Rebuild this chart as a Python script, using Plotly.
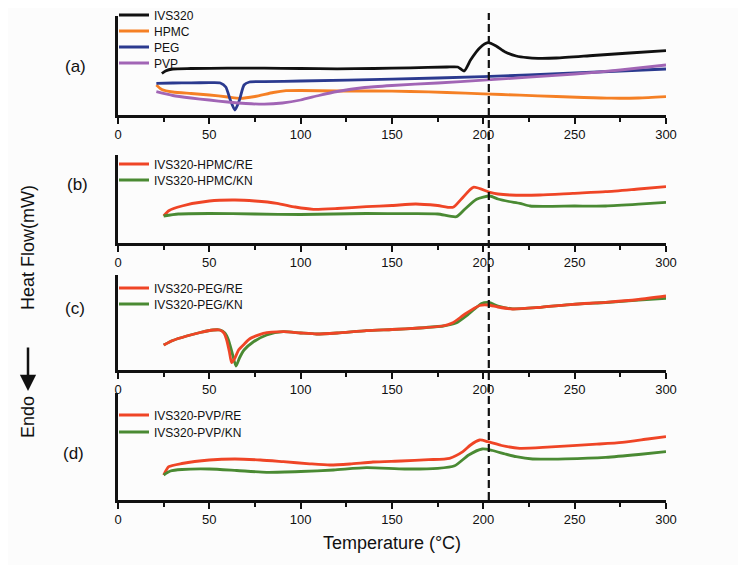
import plotly.graph_objects as go

# ---------------- data (heat flow in arbitrary units vs temperature °C) ----------------
# Panel (a)
T_ivs = [24, 26, 30, 40, 60, 80, 100, 120, 140, 160, 180, 186, 189.5, 193, 198, 202.5, 207, 212, 218, 224, 230, 240, 260, 280, 300]
h_ivs = [41.5, 44, 46, 46.5, 46.8, 46.8, 46.5, 46.2, 46.5, 47.2, 48, 48, 44, 55, 67, 72.3, 69, 63, 59, 57.3, 56.7, 57, 59.5, 62, 64.3]
T_hpmc = [21, 24, 30, 40, 50, 60, 67, 75, 85, 92, 100, 120, 140, 160, 180, 200, 220, 240, 255, 270, 285, 300]
h_hpmc = [30, 25.5, 23, 21.5, 20, 18, 16.7, 18.5, 22.5, 24.3, 24.5, 24, 24, 23.5, 22.5, 21.2, 19.8, 18.5, 17.5, 16.8, 17, 18.3]
T_peg = [21, 30, 40, 50, 56, 59, 61.5, 64, 66.5, 69, 72, 80, 100, 150, 200, 250, 300]
h_peg = [31.7, 32, 32.2, 32.3, 32, 28, 15, 5, 15, 30, 33, 33.3, 34, 35.8, 38.3, 42, 46]
T_pvp = [21, 30, 40, 50, 60, 70, 80, 90, 100, 110, 120, 135, 150, 175, 200, 225, 250, 275, 300]
h_pvp = [23.3, 19.5, 17, 15, 13, 11.5, 10.8, 12, 15, 19.5, 23.5, 27.5, 29.5, 32, 34.8, 37.8, 41, 45, 50]

# Panel (b)
T_hre = [25, 27.8, 35, 50, 64, 75, 87, 97, 107, 120, 136, 150, 163, 175, 183.4, 188, 194.5, 203.6, 208, 214.6, 231, 249, 267, 285, 300]
h_hre = [27, 32.3, 37, 42, 43, 42, 39.7, 36, 33.7, 34.5, 36.3, 37.5, 39, 37.5, 35.7, 44, 55.7, 50.7, 49, 48, 48, 49.7, 51.3, 54, 56.3]
T_hkn = [25, 33, 50, 75, 100, 136, 160, 175, 185.3, 190, 196.3, 203.6, 208, 214, 220, 225.6, 250, 267, 285, 300]
h_hkn = [27, 29, 29.5, 29, 28.5, 29.5, 29.3, 29, 26.3, 34, 43.7, 47, 44, 41.5, 39.7, 37, 37, 37, 38.8, 40.7]

# Panel (c)
T_pre = [25, 30, 37.6, 45, 52, 55.6, 58, 59.5, 61, 62.2, 64, 66, 68.6, 72, 79.5, 90.5, 100, 108.7, 120, 136, 150, 165, 177.8, 183.3, 190, 198, 202.5, 208, 216, 230, 249, 267, 285, 300]
h_pre = [25, 29.5, 34, 37.5, 40, 40, 37, 30, 18, 7.3, 12, 20, 25, 31, 36.7, 38.3, 37, 36, 37, 39.3, 40.5, 42, 44, 47.3, 56, 64.5, 65, 63, 61, 62.5, 65.7, 67.7, 70.5, 74]
T_pkn = [25, 30, 37.6, 45, 52, 56, 58.5, 60.5, 62.5, 64.6, 66.5, 69, 74, 81.4, 90.5, 100, 108.7, 120, 136, 150, 165, 178, 185, 192, 199, 203, 208, 216, 230, 249, 267, 285, 300]
h_pkn = [25, 29.5, 34, 37.5, 40, 40, 37, 30, 17, 4, 12, 20, 28, 35, 38.3, 37, 36, 37, 39.3, 40.5, 42, 44, 47, 56, 66.5, 67.5, 64, 61.2, 62.5, 65.7, 67.5, 69.8, 71.7]

# Panel (d)
T_vre = [25, 27.8, 35, 50, 64, 78, 90.5, 105, 116, 127, 139.6, 155, 170, 181.5, 188.8, 193, 198, 202.5, 210, 219.9, 235, 249, 262, 276, 290, 300]
h_vre = [25, 33.3, 36.5, 40, 41, 40, 38.3, 36.2, 35, 36, 38, 39, 40.3, 41.7, 48.3, 55, 60, 58.3, 54.5, 51.7, 52.8, 54.3, 55.8, 57.7, 61, 63.3]
T_vkn = [25, 28.7, 35, 50, 65, 81.4, 100, 118, 136, 157, 175, 184.3, 192, 199.4, 205, 212, 218, 227, 245, 267, 285, 300]
h_vkn = [25, 29, 30.5, 31, 29.5, 27.7, 28.5, 30, 32.3, 31, 31.7, 34.3, 45, 51, 49.5, 46, 43.3, 41, 41.2, 42.7, 45.5, 48.3]

x_ticks = [0, 50, 100, 150, 200, 250, 300]
marker_T = 203  # dashed reference line
panel_labels = ["(a)", "(b)", "(c)", "(d)"]

# ---------------- styling ----------------
FONT = "Liberation Sans, Arial, sans-serif"
INK = "#111111"
C_BLACK = "#111111"
C_ORANGE = "#f58025"
C_BLUE = "#2b3a8f"
C_PURPLE = "#a165b5"
C_RED = "#ef4526"
C_GREEN = "#4a8a33"
LW = 2.8

# page body has an 8px margin; figure is sized/offset so the window matches the reference
OFF = 8
FIG_W, FIG_H = 746 - OFF, 565 - OFF
# plot area in window pixels
TOP, BOT, LEFT, RIGHT = 10, 500, 118, 666
H = BOT - TOP
W = RIGHT - LEFT

def py(p):
    return (BOT - p) / H

def px(p):
    return (p - LEFT) / W

def cx(p):
    return (p - OFF) / FIG_W

def cy(p):
    return 1 - (p - OFF) / FIG_H

fig = go.Figure()

# (T, h, name, color, panel row, legend item center y in window px)
series = [
    (T_ivs, h_ivs, "IVS320", C_BLACK, 1, 15),
    (T_hpmc, h_hpmc, "HPMC", C_ORANGE, 1, 31),
    (T_peg, h_peg, "PEG", C_BLUE, 1, 47),
    (T_pvp, h_pvp, "PVP", C_PURPLE, 1, 63),
    (T_hre, h_hre, "IVS320-HPMC/RE", C_RED, 2, 164),
    (T_hkn, h_hkn, "IVS320-HPMC/KN", C_GREEN, 2, 180),
    (T_pkn, h_pkn, "IVS320-PEG/KN", C_GREEN, 3, 304),
    (T_pre, h_pre, "IVS320-PEG/RE", C_RED, 3, 288),
    (T_vre, h_vre, "IVS320-PVP/RE", C_RED, 4, 415),
    (T_vkn, h_vkn, "IVS320-PVP/KN", C_GREEN, 4, 432),
]

layout = dict(
    width=FIG_W, height=FIG_H,
    margin=dict(l=LEFT - OFF, r=FIG_W - (RIGHT - OFF), t=TOP - OFF, b=FIG_H - (BOT - OFF), autoexpand=False),
    paper_bgcolor="#fcfcfc", plot_bgcolor="#fcfcfc",
    font=dict(family=FONT, color=INK),
    showlegend=True,
)

for k, (T, h, name, color, row, lc) in enumerate(series):
    lkey = "legend" if k == 0 else f"legend{k + 1}"
    fig.add_trace(go.Scatter(
        x=T, y=h, name=name, mode="lines",
        line=dict(color=color, width=LW, shape="spline", smoothing=0.6),
        xaxis="x" if row == 1 else f"x{row}",
        yaxis="y" if row == 1 else f"y{row}",
        legend=lkey,
    ))
    layout[lkey] = dict(
        xref="container", yref="container",
        x=cx(114), xanchor="left", y=cy(lc), yanchor="middle",
        bgcolor="rgba(0,0,0,0)", borderwidth=0,
        font=dict(size=12, family=FONT, color=INK),
        itemwidth=30,
    )

panels = [(16, 115, 99), (155, 243, 88), (275, 370, 95), (393, 500, 107)]

for i, (ptop, pbot, yr) in enumerate(panels, start=1):
    xa = "xaxis" if i == 1 else f"xaxis{i}"
    ya = "yaxis" if i == 1 else f"yaxis{i}"
    layout[xa] = dict(
        domain=[0, 1], range=[0, 300], anchor="y" if i == 1 else f"y{i}",
        showline=True, linecolor=INK, linewidth=2.5, mirror=False,
        ticks="outside", ticklen=6, tickwidth=2.2, tickcolor=INK,
        tickvals=x_ticks, ticktext=[str(v) for v in x_ticks],
        minor=dict(ticks="outside", ticklen=4, tickwidth=2, tickcolor=INK, dtick=25, tick0=0),
        showgrid=False, zeroline=False, automargin=False,
        tickfont=dict(size=13, family=FONT, color=INK),
    )
    layout[ya] = dict(
        domain=[py(pbot), py(ptop)], range=[0, yr], anchor="x" if i == 1 else f"x{i}",
        showline=True, linecolor=INK, linewidth=2.5, automargin=False,
        showticklabels=False, ticks="", showgrid=False, zeroline=False, fixedrange=True,
    )

layout["xaxis4"]["title"] = dict(text="Temperature (°C)", font=dict(size=18, family=FONT, color=INK), standoff=11)

fig.update_layout(**layout)

# dashed vertical reference line
fig.add_shape(type="line", xref="x", yref="paper", x0=marker_T, x1=marker_T,
              y0=0, y1=py(13), line=dict(color=INK, width=2.2, dash="8px,4px"))

# panel labels
label_pos = [(75, 67), (77, 185), (75, 308), (73, 453)]
for lab, (lx, ly) in zip(panel_labels, label_pos):
    fig.add_annotation(text=lab, xref="paper", yref="paper", x=px(lx), y=py(ly),
                       xanchor="center", yanchor="middle",
                       showarrow=False, font=dict(size=17, family=FONT, color=INK))

# y title, arrow, Endo
fig.add_annotation(text="Heat Flow(mW)", xref="paper", yref="paper", x=px(28), y=py(248),
                   xanchor="center", yanchor="middle",
                   textangle=-90, showarrow=False, font=dict(size=18, family=FONT, color=INK))
fig.add_annotation(text="", xref="paper", yref="paper", x=px(28), y=py(391),
                   ax=0, ay=-45, showarrow=True, arrowhead=2, arrowsize=1.3, arrowwidth=2.5,
                   arrowcolor=INK)
fig.add_annotation(text="Endo", xref="paper", yref="paper", x=px(28), y=py(417),
                   xanchor="center", yanchor="middle",
                   textangle=-90, showarrow=False, font=dict(size=18, family=FONT, color=INK))

fig.write_html("out.html")
